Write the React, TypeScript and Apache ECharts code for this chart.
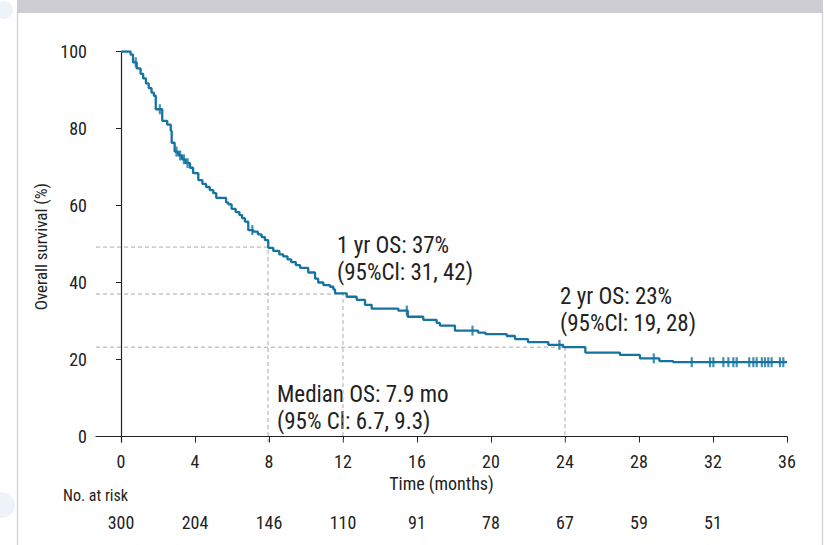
import React, { useEffect, useRef } from "react";
import * as echarts from "echarts";

// Kaplan–Meier step points (time in months, survival %)
const kmTimes = [0, 0.52, 0.65, 0.85, 1.06, 1.2, 1.35, 1.5, 1.65, 1.78, 1.88, 2.23, 2.5, 2.69, 2.74, 2.9, 3.1, 3.3, 3.5, 3.73, 3.9, 4.18, 4.4, 4.6, 4.8, 4.99, 5.15, 5.68, 5.8, 5.98, 6.2, 6.4, 6.55, 6.7, 6.88, 7.15, 7.4, 7.6, 7.78, 7.96, 8.23, 8.56, 8.77, 9.0, 9.2, 9.45, 9.68, 10.12, 10.49, 10.66, 10.94, 11.3, 11.48, 11.57, 12.2, 12.74, 13.19, 13.55, 14.99, 15.5, 16.34, 17.06, 17.24, 18.05, 19.3, 19.7, 20.85, 21.3, 22.0, 23.1, 23.9, 25.1, 26.97, 28.05, 29.1, 29.85, 36];
const kmSurv = [100, 99.2, 97.2, 95.6, 94.2, 93, 91.7, 90.5, 89.3, 88.5, 85, 82, 81, 79.4, 76.3, 74, 73, 72, 71, 69.8, 68.4, 66.6, 65.6, 64.8, 64, 63.2, 62, 60.8, 60.3, 59.1, 58.3, 57.5, 56.7, 55.8, 53.6, 53.2, 52.5, 51.8, 51, 49, 48.2, 47.3, 46.8, 46, 45.3, 44.5, 43.8, 42.6, 41, 40, 39.3, 38.9, 38.2, 37.2, 36.3, 35.5, 34.2, 33.2, 32.7, 31.1, 30.3, 29.5, 28.8, 27.5, 27, 26.6, 26.1, 25.3, 24.5, 23.8, 23.2, 21.8, 21.2, 20.3, 19.6, 19.3, 19.3];

// Censoring marks
const censorTimes = [0.8, 2.1, 3.0, 3.2, 3.4, 3.6, 7.1, 15.45, 19.0, 23.7, 28.8, 30.85, 31.84, 32.02, 32.56, 32.83, 33.1, 33.28, 33.96, 34.18, 34.36, 34.64, 34.81, 34.99, 35.17, 35.62, 35.8];
const censorSurv = [97.2, 85, 74, 73, 72, 71, 53.6, 32.7, 27.5, 23.8, 20.3, 19.3, 19.3, 19.3, 19.3, 19.3, 19.3, 19.3, 19.3, 19.3, 19.3, 19.3, 19.3, 19.3, 19.3, 19.3, 19.3];

// Reference (dashed) guides: median, 1 yr, 2 yr
const guideTimes = [7.95, 12, 24];
const guideSurv = [49.2, 37, 23.2];

// Axis ticks
const xTicks = [0, 4, 8, 12, 16, 20, 24, 28, 32, 36];
const yTicks = [0, 20, 40, 60, 80, 100];

// Number at risk
const riskTimes = [0, 4, 8, 12, 16, 20, 24, 28, 32];
const atRisk = [300, 204, 146, 110, 91, 78, 67, 59, 51];

// Annotations
const annoLines = [
  ["1 yr OS: 37%", "(95%Cl: 31, 42)"],
  ["2 yr OS: 23%", "(95%Cl: 19, 28)"],
  ["Median OS: 7.9 mo", "(95% Cl: 6.7, 9.3)"],
];

const X_MIN = -1.35;
const X_MAX = 36;
const Y_MIN = -1.43;
const Y_MAX = 100;

const FONT = "'Liberation Sans Narrow','Arial Narrow','Roboto Condensed','Liberation Sans',sans-serif";
const TEXT = "#222";
const BLUE = "#14739f";

export default function App() {
  const ref = useRef<HTMLDivElement>(null);

  useEffect(() => {
    if (!ref.current) return;
    const chart = echarts.init(ref.current, undefined, { renderer: "svg" });

    const km = kmTimes.map((t, i) => [t, kmSurv[i]]);
    const censors = censorTimes.map((t, i) => [t, censorSurv[i]]);
    const guideSeries = guideTimes.map((t, i) => ({
      type: "line",
      data: [[X_MIN, guideSurv[i]], [t, guideSurv[i]], [t, Y_MIN]],
      symbol: "none",
      lineStyle: { color: "#aaaaaa", width: 1, type: [4, 3] },
      z: 1,
      silent: true,
    }));

    const annoPos = [
      { x: 337, y: 245 },
      { x: 560, y: 296 },
      { x: 277, y: 394 },
    ];
    const annoGraphics: any[] = [];
    annoLines.forEach((lines, i) => {
      lines.forEach((txt, j) => {
        annoGraphics.push({
          type: "text",
          x: annoPos[i].x,
          y: annoPos[i].y + j * 27,
          style: {
            text: txt,
            fill: TEXT,
            font: `23px ${FONT}`,
            align: "left",
            verticalAlign: "middle",
          },
        });
      });
    });

    const option: any = {
      animation: false,
      grid: { left: 96, right: 39, top: 51.5, bottom: 103, containLabel: false },
      xAxis: [
        {
          type: "value",
          min: X_MIN,
          max: X_MAX,
          axisLine: { show: true, lineStyle: { color: TEXT, width: 1.2 } },
          axisTick: { show: true, customValues: xTicks, length: 6, lineStyle: { color: TEXT } },
          axisLabel: { customValues: xTicks, fontSize: 18, color: TEXT, margin: 10, fontFamily: FONT },
          splitLine: { show: false },
          name: "Time (months)",
          nameLocation: "middle",
          nameGap: 32,
          nameTextStyle: { fontSize: 18, color: TEXT, fontFamily: FONT },
        },
        {
          type: "value",
          min: X_MIN,
          max: X_MAX,
          position: "bottom",
          offset: 63,
          axisLine: { show: false },
          axisTick: { show: false },
          axisLabel: {
            customValues: riskTimes,
            fontSize: 18,
            color: TEXT,
            margin: 8,
            fontFamily: FONT,
            formatter: (v: number) => {
              const idx = riskTimes.indexOf(v);
              return idx >= 0 ? String(atRisk[idx]) : "";
            },
          },
          splitLine: { show: false },
        },
      ],
      yAxis: {
        type: "value",
        min: Y_MIN,
        max: Y_MAX,
        axisLine: { show: true, lineStyle: { color: TEXT, width: 1.2 } },
        axisTick: { show: true, customValues: yTicks, length: 5, lineStyle: { color: TEXT } },
        axisLabel: { customValues: yTicks, fontSize: 18, color: TEXT, margin: 9, fontFamily: FONT },
        splitLine: { show: false },
        name: "Overall survival (%)",
        nameLocation: "middle",
        nameGap: 35,
        nameRotate: 90,
        nameTextStyle: { fontSize: 17, color: TEXT, fontFamily: FONT },
      },
      series: [
        ...guideSeries,
        {
          type: "line",
          data: km,
          step: "end",
          symbol: "none",
          lineStyle: { color: BLUE, width: 2.3 },
          z: 3,
        },
        {
          type: "scatter",
          data: censors,
          symbol: "rect",
          symbolSize: [2.2, 10],
          itemStyle: { color: BLUE },
          z: 4,
        },
      ],
      graphic: [
        { type: "circle", shape: { cx: 4, cy: 10, r: 9 }, style: { fill: "#eef3fa" }, z: -1 },
        { type: "circle", shape: { cx: 2, cy: 505, r: 13 }, style: { fill: "#eef3fa" }, z: -1 },
        { type: "rect", shape: { x: 17, y: 0, width: 806, height: 13 }, style: { fill: "#cdcdd3" } },
        { type: "line", shape: { x1: 17.5, y1: 13, x2: 17.5, y2: 545 }, style: { stroke: "#d6d6da", lineWidth: 1.5 } },
        { type: "line", shape: { x1: 822.5, y1: 13, x2: 822.5, y2: 545 }, style: { stroke: "#d6d6da", lineWidth: 1.5 } },
        {
          type: "text",
          x: 63,
          y: 495,
          style: { text: "No. at risk", fill: TEXT, font: `16px ${FONT}`, align: "left", verticalAlign: "middle" },
        },
        ...annoGraphics,
      ],
    };

    chart.setOption(option);
    return () => chart.dispose();
  }, []);

  return (
    <div
      ref={ref}
      style={{ position: "absolute", left: 0, top: 0, width: 826, height: 545, background: "#fff" }}
    />
  );
}
